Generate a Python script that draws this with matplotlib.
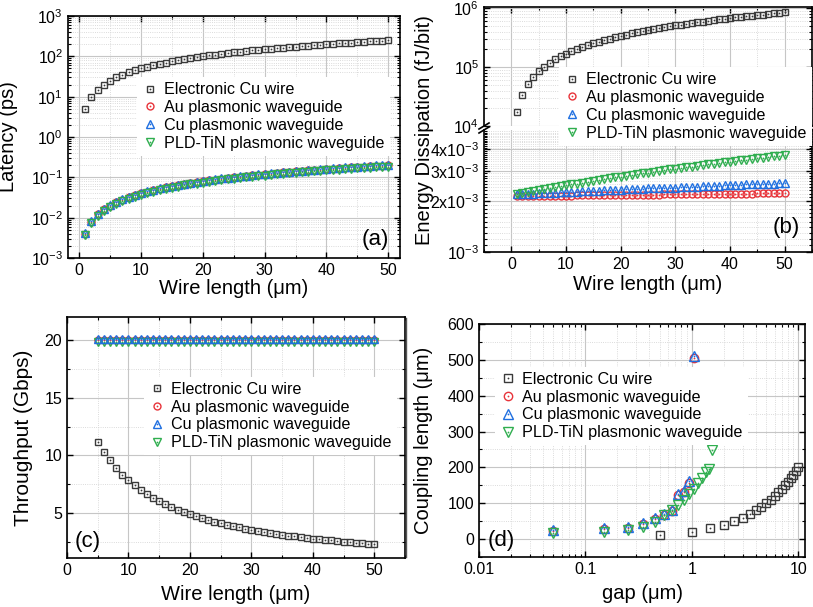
import numpy as np
import matplotlib
matplotlib.use("Agg")
import matplotlib.pyplot as plt
from matplotlib.lines import Line2D
from matplotlib.ticker import (MultipleLocator, LogLocator, FixedLocator,
                               FixedFormatter, NullFormatter)

# ---- data ----
labels = ["Electronic Cu wire", "Au plasmonic waveguide",
          "Cu plasmonic waveguide", "PLD-TiN plasmonic waveguide"]

wire_len = list(range(1, 51))            # um, panels (a) and (b)
wire_len_c = list(range(5, 51))          # um, panel (c)

# (a) latency
lat_elec_ps = [5, 10, 15, 20, 25, 30, 35, 40, 45, 50, 55, 60, 65, 70, 75, 80, 85, 90, 95, 100,
               105, 110, 115, 120, 125, 130, 135, 140, 145, 150, 155, 160, 165, 170, 175, 180,
               185, 190, 195, 200, 205, 210, 215, 220, 225, 230, 235, 240, 245, 250]
lat_au_fs = [4, 8, 12, 16, 20, 24, 28, 32, 36, 40, 44, 48, 52, 56, 60, 64, 68, 72, 76, 80,
             84, 88, 92, 96, 100, 104, 108, 112, 116, 120, 124, 128, 132, 136, 140, 144, 148,
             152, 156, 160, 164, 168, 172, 176, 180, 184, 188, 192, 196, 200]
lat_cu_fs = [4.1, 8.2, 12.3, 16.4, 20.5, 24.6, 28.7, 32.8, 36.9, 41.0, 45.1, 49.2, 53.3, 57.4,
             61.5, 65.6, 69.7, 73.8, 77.9, 82.0, 86.1, 90.2, 94.3, 98.4, 102.5, 106.6, 110.7,
             114.8, 118.9, 123.0, 127.1, 131.2, 135.3, 139.4, 143.5, 147.6, 151.7, 155.8, 159.9,
             164.0, 168.1, 172.2, 176.3, 180.4, 184.5, 188.6, 192.7, 196.8, 200.9, 205.0]
lat_tin_fs = [3.7, 7.4, 11.1, 14.8, 18.5, 22.2, 25.9, 29.6, 33.3, 37.0, 40.7, 44.4, 48.1, 51.8,
              55.5, 59.2, 62.9, 66.6, 70.3, 74.0, 77.7, 81.4, 85.1, 88.8, 92.5, 96.2, 99.9,
              103.6, 107.3, 111.0, 114.7, 118.4, 122.1, 125.8, 129.5, 133.2, 136.9, 140.6, 144.3,
              148.0, 151.7, 155.4, 159.1, 162.8, 166.5, 170.2, 173.9, 177.6, 181.3, 185.0]

# (b) energy dissipation
en_elec_pj = [17, 34, 51, 68, 85, 102, 119, 136, 153, 170, 187, 204, 221, 238, 255, 272, 289,
              306, 323, 340, 357, 374, 391, 408, 425, 442, 459, 476, 493, 510, 527, 544, 561,
              578, 595, 612, 629, 646, 663, 680, 697, 714, 731, 748, 765, 782, 799, 816, 833, 850]
en_au_aj = [2.13, 2.13, 2.13, 2.13, 2.13, 2.14, 2.14, 2.14, 2.14, 2.14, 2.14, 2.15, 2.15, 2.15,
            2.15, 2.15, 2.16, 2.16, 2.16, 2.16, 2.16, 2.16, 2.17, 2.17, 2.17, 2.17, 2.17, 2.18,
            2.18, 2.18, 2.18, 2.18, 2.18, 2.19, 2.19, 2.19, 2.19, 2.19, 2.20, 2.20, 2.20, 2.20,
            2.20, 2.20, 2.21, 2.21, 2.21, 2.21, 2.21, 2.22]
en_cu_aj = [2.18, 2.19, 2.19, 2.20, 2.21, 2.22, 2.22, 2.23, 2.24, 2.25, 2.25, 2.26, 2.27, 2.27,
            2.28, 2.29, 2.30, 2.30, 2.31, 2.32, 2.33, 2.33, 2.34, 2.35, 2.36, 2.36, 2.37, 2.38,
            2.38, 2.39, 2.40, 2.41, 2.41, 2.42, 2.43, 2.44, 2.44, 2.45, 2.46, 2.47, 2.47, 2.48,
            2.49, 2.49, 2.50, 2.51, 2.52, 2.52, 2.53, 2.54]
en_tin_aj = [2.18, 2.21, 2.24, 2.27, 2.30, 2.34, 2.37, 2.40, 2.43, 2.46, 2.49, 2.52, 2.55, 2.58,
             2.61, 2.65, 2.68, 2.71, 2.74, 2.77, 2.80, 2.83, 2.86, 2.89, 2.92, 2.96, 2.99, 3.02,
             3.05, 3.08, 3.11, 3.14, 3.17, 3.20, 3.23, 3.27, 3.30, 3.33, 3.36, 3.39, 3.42, 3.45,
             3.48, 3.51, 3.54, 3.58, 3.61, 3.64, 3.67, 3.70]

# (c) throughput
thr_elec = [11.2, 10.32, 9.56, 8.90, 8.33, 7.83, 7.39, 6.99, 6.63, 6.31, 6.02, 5.75, 5.51, 5.28,
            5.08, 4.89, 4.71, 4.55, 4.39, 4.25, 4.11, 3.99, 3.87, 3.76, 3.65, 3.55, 3.46, 3.37,
            3.28, 3.20, 3.13, 3.05, 2.98, 2.91, 2.85, 2.79, 2.73, 2.67, 2.62, 2.57, 2.52, 2.47,
            2.43, 2.38, 2.34, 2.30]
thr_au = [20.0, 20.0, 20.0, 20.0, 20.0, 20.0, 20.0, 20.0, 20.0, 20.0, 20.0, 20.0, 20.0, 20.0,
          20.0, 20.0, 20.0, 20.0, 20.0, 20.0, 20.0, 20.0, 20.0, 20.0, 20.0, 20.0, 20.0, 20.0,
          20.0, 20.0, 20.0, 20.0, 20.0, 20.0, 20.0, 20.0, 20.0, 20.0, 20.0, 20.0, 20.0, 20.0,
          20.0, 20.0, 20.0, 20.0]
thr_cu = [20.05, 20.05, 20.05, 20.05, 20.05, 20.05, 20.05, 20.05, 20.05, 20.05, 20.05, 20.05,
          20.05, 20.05, 20.05, 20.05, 20.05, 20.05, 20.05, 20.05, 20.05, 20.05, 20.05, 20.05,
          20.05, 20.05, 20.05, 20.05, 20.05, 20.05, 20.05, 20.05, 20.05, 20.05, 20.05, 20.05,
          20.05, 20.05, 20.05, 20.05, 20.05, 20.05, 20.05, 20.05, 20.05, 20.05]
thr_tin = [19.85, 19.85, 19.85, 19.85, 19.85, 19.85, 19.85, 19.85, 19.85, 19.85, 19.85, 19.85,
           19.85, 19.85, 19.85, 19.85, 19.85, 19.85, 19.85, 19.85, 19.85, 19.85, 19.85, 19.85,
           19.85, 19.85, 19.85, 19.85, 19.85, 19.85, 19.85, 19.85, 19.85, 19.85, 19.85, 19.85,
           19.85, 19.85, 19.85, 19.85, 19.85, 19.85, 19.85, 19.85, 19.85, 19.85]

# (d) coupling length vs gap
gap_elec = [0.5, 1.0, 1.5, 2.0, 2.5, 3.0, 3.5, 4.0, 4.5, 5.0, 5.5, 6.0, 6.5, 7.0, 7.5, 8.0,
            8.5, 9.0, 9.5, 10.0]
lc_elec = [10, 20, 30, 40, 50, 60, 70, 80, 90, 100, 110, 120, 130, 140, 150, 160, 170, 180,
           190, 200]
gap_metal = [0.05, 0.15, 0.25, 0.35, 0.45, 0.55, 0.65, 0.75, 0.85, 0.95, 1.05]
lc_au = [22, 28, 32, 42, 56, 67, 78, 122, 130, 156, 505]
lc_cu = [25, 31, 35, 45, 60, 71, 80, 126, 135, 162, 512]
gap_tin = [0.05, 0.15, 0.25, 0.35, 0.45, 0.55, 0.65, 0.75, 0.85, 0.95, 1.05, 1.15, 1.25,
           1.35, 1.45, 1.55]
lc_tin = [17, 21, 25, 34, 49, 66, 80, 95, 110, 125, 141, 156, 171, 186, 196, 248]

# ---- styles ----
plt.rcParams.update({
    "font.family": ["Liberation Sans", "DejaVu Sans"],
    "mathtext.fontset": "custom",
    "mathtext.rm": "Liberation Sans",
    "mathtext.it": "Liberation Sans:italic",
    "mathtext.bf": "Liberation Sans:bold",
    "axes.unicode_minus": False,
})
markers = [("s", "#3a3a3a", 5.0), ("o", "#e8333a", 5.0),
           ("^", "#1f6fe0", 6.0), ("v", "#2fae4f", 6.0)]

W, H = 813, 607
fig = plt.figure(figsize=(W / 100, H / 100), dpi=100)


def px_axes(l, t, r, b):
    return fig.add_axes([l / W, 1 - b / H, (r - l) / W, (b - t) / H])


def style(ax):
    ax.tick_params(which="both", direction="in", top=True, right=True, labelsize=11.5)
    ax.tick_params(which="major", length=4, width=1)
    ax.tick_params(which="minor", length=2, width=0.8)
    ax.grid(True, which="major", color="#c6c6c6", lw=0.8)
    ax.grid(True, which="minor", color="#cfcfcf", lw=0.6, ls=":")
    ax.set_axisbelow(True)
    for s in ax.spines.values():
        s.set_linewidth(1.2)


def draw(ax, x, y, k, scale=1.0, big=0.0):
    m, c, ms = markers[k]
    yy = np.asarray(y, dtype=float) * scale
    ln, = ax.plot(x, yy, ls="none", marker=m, ms=ms + big, mfc="none", mec=c, mew=1.0)
    dot, = ax.plot(x, yy, ls="none", marker="o", ms=1.3, mfc=c, mec="none")
    return (ln, dot)


def legend(handles, mx, my):
    fig.legend(handles, labels, loc="center left",
               bbox_to_anchor=((mx - 13) / W, 1 - my / H), bbox_transform=fig.transFigure,
               frameon=True, fancybox=False, edgecolor="none", facecolor="white",
               framealpha=1, fontsize=11.6, handlelength=1.0, handletextpad=0.4,
               labelspacing=0.18, borderpad=0.3, borderaxespad=0)


def log_axis(axis):
    axis.set_major_locator(LogLocator(base=10, numticks=20))
    axis.set_minor_locator(LogLocator(base=10, subs=np.arange(2, 10), numticks=20))
    axis.set_minor_formatter(NullFormatter())


# ---- (a) latency ----
ax = px_axes(68, 16, 400, 258)
style(ax)
ax.set_yscale("log")
log_axis(ax.yaxis)
h = [draw(ax, wire_len, lat_elec_ps, 0),
     draw(ax, wire_len, lat_au_fs, 1, 1e-3),
     draw(ax, wire_len, lat_cu_fs, 2, 1e-3),
     draw(ax, wire_len, lat_tin_fs, 3, 1e-3)]
ax.set_xlim(-1.8, 51.9)
ax.set_ylim(1e-3, 1e3)
ax.xaxis.set_major_locator(MultipleLocator(10))
ax.xaxis.set_minor_locator(MultipleLocator(5))
ax.set_xlabel("Wire length (\u03bcm)", fontsize=14.5, labelpad=1)
ax.set_ylabel("Latency (ps)", fontsize=14.5)
ax.yaxis.set_label_coords(-0.15, 0.5)
ax.text(0.925, 0.075, "(a)", transform=ax.transAxes, fontsize=16, ha="center", va="center")
legend(h, 150, 116.5)

# ---- (b) energy dissipation, broken y axis ----
bt = px_axes(484, 7, 812, 126)
bb = px_axes(484, 130, 812, 252)
for ax in (bt, bb):
    style(ax)
    ax.set_yscale("log")
    ax.set_xlim(-5, 55)
    ax.xaxis.set_major_locator(MultipleLocator(10))
    ax.xaxis.set_minor_locator(MultipleLocator(5))
bt.spines["bottom"].set_visible(False)
bt.tick_params(which="both", bottom=False, labelbottom=False)
bb.spines["top"].set_visible(False)
bb.tick_params(which="both", top=False)
log_axis(bt.yaxis)
bt.set_ylim(1e4, 1.05e6)
bb.set_ylim(1e-3, 5.2e-3)
bb.yaxis.set_major_locator(FixedLocator([1e-3, 2e-3, 3e-3, 4e-3]))
bb.yaxis.set_major_formatter(FixedFormatter([
    r"$\mathdefault{10^{-3}}$", r"$\mathdefault{2x10^{-3}}$",
    r"$\mathdefault{3x10^{-3}}$", r"$\mathdefault{4x10^{-3}}$"]))
bb.yaxis.set_minor_locator(FixedLocator(np.arange(1.1, 5.2, 0.1) * 1e-3))
bb.yaxis.set_minor_formatter(NullFormatter())
hb = [draw(bt, wire_len, en_elec_pj, 0, 1e3),
      draw(bb, wire_len, en_au_aj, 1, 1e-3),
      draw(bb, wire_len, en_cu_aj, 2, 1e-3),
      draw(bb, wire_len, en_tin_aj, 3, 1e-3)]
bb.set_xlabel("Wire length (\u03bcm)", fontsize=14.5, labelpad=2)
fig.text(424 / W, 1 - 130 / H, "Energy Dissipation (fJ/bit)", rotation=90,
         ha="center", va="center", fontsize=14.5)
bb.text(0.92, 0.2, "(b)", transform=bb.transAxes, fontsize=16, ha="center", va="center")
for xs in (484, 812):
    for ys in (126, 130):
        fig.add_artist(Line2D([(xs - 5) / W, (xs + 5) / W],
                              [1 - (ys + 3) / H, 1 - (ys - 3) / H],
                              color="black", lw=1.2, transform=fig.transFigure))
legend(hb, 572, 106.5)

# ---- (c) throughput ----
ax = px_axes(67, 317, 405, 558)
style(ax)
hc = [draw(ax, wire_len_c, thr_elec, 0),
      draw(ax, wire_len_c, thr_au, 1),
      draw(ax, wire_len_c, thr_tin, 3),
      draw(ax, wire_len_c, thr_cu, 2)]
hc = [hc[0], hc[1], hc[3], hc[2]]
ax.set_xlim(0, 55)
ax.set_ylim(1.1, 22)
ax.xaxis.set_major_locator(MultipleLocator(10))
ax.xaxis.set_minor_locator(MultipleLocator(5))
ax.yaxis.set_major_locator(MultipleLocator(5))
ax.yaxis.set_minor_locator(MultipleLocator(2.5))
ax.set_xlabel("Wire length (\u03bcm)", fontsize=14.5, labelpad=5)
ax.set_ylabel("Throughput (Gbps)", fontsize=15)
ax.yaxis.set_label_coords(-0.10, 0.5)
ax.text(0.06, 0.07, "(c)", transform=ax.transAxes, fontsize=16, ha="center", va="center")
legend(hc, 157, 416)

# ---- (d) coupling length ----
ax = px_axes(479, 324, 805, 557)
style(ax)
ax.set_xscale("log")
log_axis(ax.xaxis)
hd = [draw(ax, gap_elec, lc_elec, 0, big=0.5),
      draw(ax, gap_metal, lc_au, 1, big=1.0),
      draw(ax, gap_metal, lc_cu, 2, big=1.0),
      draw(ax, gap_tin, lc_tin, 3, big=1.0)]
ax.set_xlim(0.01, 11.6)
ax.set_ylim(-50, 600)
ax.xaxis.set_major_locator(FixedLocator([0.01, 0.1, 1, 10]))
ax.xaxis.set_major_formatter(FixedFormatter(["0.01", "0.1", "1", "10"]))
ax.yaxis.set_major_locator(MultipleLocator(100))
ax.yaxis.set_minor_locator(MultipleLocator(50))
ax.set_xlabel("gap (\u03bcm)", fontsize=14.5, labelpad=5)
ax.set_ylabel("Coupling length (\u03bcm)", fontsize=14.5)
ax.yaxis.set_label_coords(-0.141, 0.5)
ax.text(0.067, 0.069, "(d)", transform=ax.transAxes, fontsize=16, ha="center", va="center")
legend(hd, 508, 406)

# thin border line left of panel (d) in the source image
fig.add_artist(Line2D([406 / W, 406 / W], [1 - 318 / H, 1 - 557 / H],
                      color="#555555", lw=1.0, transform=fig.transFigure))

fig.savefig("out.png", dpi=100)
